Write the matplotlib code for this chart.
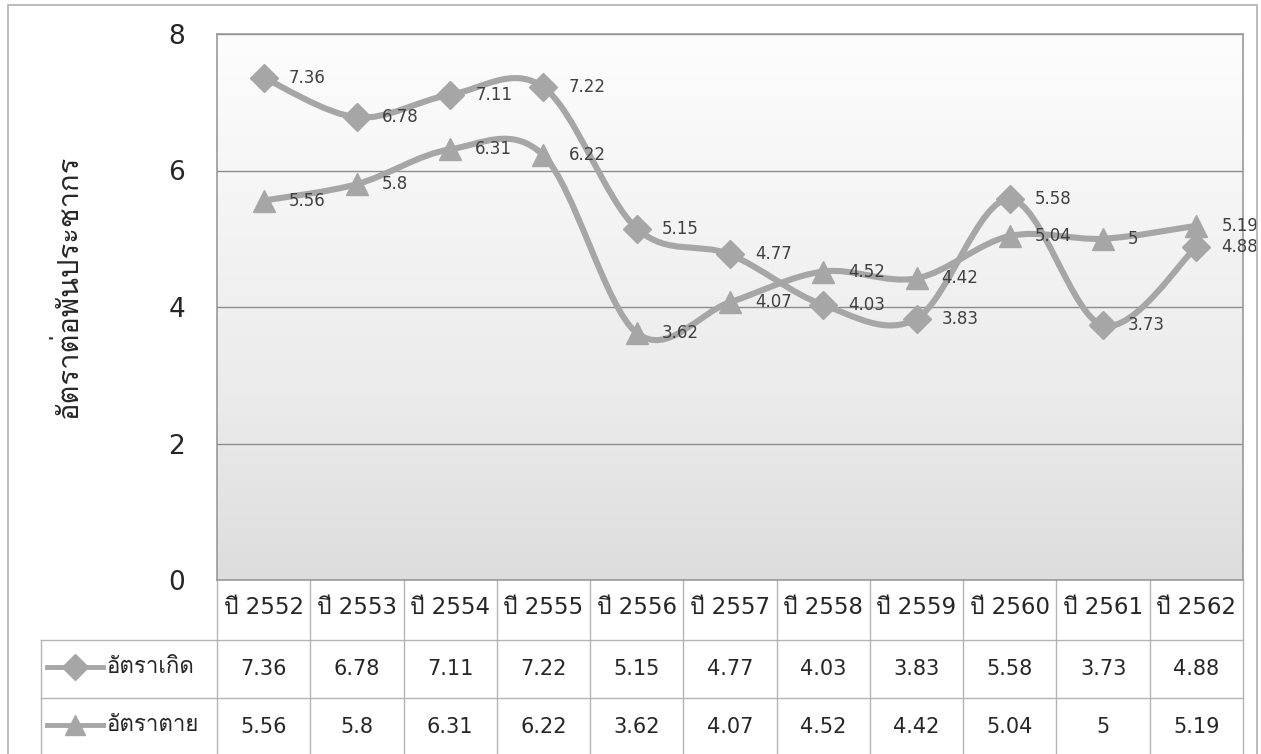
import numpy as np
import matplotlib
matplotlib.use("Agg")
import matplotlib.pyplot as plt
from matplotlib import font_manager
from matplotlib.ft2font import FT2Font
from matplotlib.path import Path
from matplotlib.patches import PathPatch, Rectangle
from matplotlib.lines import Line2D
import matplotlib.transforms as mtransforms

years = ['ปี 2552', 'ปี 2553', 'ปี 2554', 'ปี 2555', 'ปี 2556', 'ปี 2557',
         'ปี 2558', 'ปี 2559', 'ปี 2560', 'ปี 2561', 'ปี 2562']
birth_rate = [7.36, 6.78, 7.11, 7.22, 5.15, 4.77, 4.03, 3.83, 5.58, 3.73, 4.88]
death_rate = [5.56, 5.8, 6.31, 6.22, 3.62, 4.07, 4.52, 4.42, 5.04, 5, 5.19]
birth_labels = ['7.36', '6.78', '7.11', '7.22', '5.15', '4.77', '4.03', '3.83', '5.58', '3.73', '4.88']
death_labels = ['5.56', '5.8', '6.31', '6.22', '3.62', '4.07', '4.52', '4.42', '5.04', '5', '5.19']
series_names = ['อัตราเกิด', 'อัตราตาย']
y_label = 'อัตราต่อพันประชากร'

# look for any installed family that has thai glyphs
thai_fams = []
for f in font_manager.fontManager.ttflist:
    try:
        if FT2Font(f.fname).get_char_index(0x0E2D) and f.name not in thai_fams:
            thai_fams.append(f.name)
    except Exception:
        pass
plt.rcParams['font.family'] = ['DejaVu Sans'] + thai_fams[:3]

W, H = 1261, 754
LINE = '#a6a6a6'
GRID = '#8c8c8c'
TXT = '#262626'


def px(x, y):
    # pixel position (from top-left) -> figure fraction
    return x / W, 1 - y / H


def smooth_path(xs, ys):
    # excel style smoothed line: catmull-rom as cubic bezier
    pts = np.column_stack([xs, ys]).astype(float)
    n = len(pts)
    verts = [pts[0]]
    codes = [Path.MOVETO]
    for i in range(n - 1):
        p0 = pts[i - 1] if i > 0 else pts[i]
        p1 = pts[i]
        p2 = pts[i + 1]
        p3 = pts[i + 2] if i + 2 < n else pts[i + 1]
        c1 = p1 + (p2 - p0) / 6.0
        c2 = p2 - (p3 - p1) / 6.0
        verts += [c1, c2, p2]
        codes += [Path.CURVE4] * 3
    return Path(verts, codes)


fig = plt.figure(figsize=(W / 100, H / 100), dpi=100)

# outer chart frame
x0, y0 = px(8, 5)
x1, y1 = px(1257, 760)
fig.patches.append(Rectangle((x0, y1), x1 - x0, y0 - y1, transform=fig.transFigure,
                             fill=False, ec='#b0b0b0', lw=1.2, zorder=0))

left, top = px(217, 34)
right, bottom = px(1243, 580)
ax = fig.add_axes([left, bottom, right - left, top - bottom])

xs = np.arange(len(years))
ax.set_xlim(-0.5, len(years) - 0.5)
ax.set_ylim(0, 8)

# gradient background
grad = np.linspace(0, 1, 256).reshape(-1, 1)
cm = matplotlib.colors.LinearSegmentedColormap.from_list('g', ['#dddddd', '#ebebeb', '#f4f4f4', '#fdfdfd'])
ax.imshow(grad, extent=[-0.5, len(years) - 0.5, 0, 8], aspect='auto',
          cmap=cm, origin='lower', zorder=0)

ax.set_yticks([0, 2, 4, 6, 8])
ax.yaxis.grid(True, color=GRID, lw=1.0, zorder=1)
ax.set_xticks([])
ax.tick_params(axis='y', length=0, pad=23, labelsize=19, colors=TXT)
for sp in ax.spines.values():
    sp.set_color('#9a9a9a')
    sp.set_linewidth(1.2)

for vals, labs, mk, ms in [(birth_rate, birth_labels, 'D', 14), (death_rate, death_labels, '^', 16)]:
    ax.add_patch(PathPatch(smooth_path(xs, vals), fill=False, ec=LINE, lw=4.4,
                           zorder=3, capstyle='round', joinstyle='round'))
    ax.plot(xs, vals, ls='none', marker=mk, ms=ms, color=LINE, zorder=4)
    for x, v, t in zip(xs, vals, labs):
        ax.annotate(t, (x, v), xytext=(18, 0), textcoords='offset points',
                    ha='left', va='center', fontsize=12, color='#404040', zorder=5)

fig.text(*px(68, 286), y_label, rotation=90, ha='center', va='center',
         fontsize=21, color=TXT)

# data table below the chart
tr = mtransforms.blended_transform_factory(ax.transData, fig.transFigure)
row_lines = [580, 640, 698, 760]
for i in range(len(years) + 1):
    ax.add_line(Line2D([i - 0.5, i - 0.5], [px(0, 580)[1], px(0, 760)[1]], transform=tr,
                       color='#b4b4b4', lw=1.0, clip_on=False))
for yy in row_lines[1:3]:
    fig.add_artist(Line2D([px(41, 0)[0], right], [px(0, yy)[1]] * 2,
                          color='#b4b4b4', lw=1.0))
fig.add_artist(Line2D([px(41, 0)[0]] * 2, [px(0, 640)[1], px(0, 760)[1]],
                      color='#b4b4b4', lw=1.0))

for i, yr in enumerate(years):
    ax.text(i, px(0, 608)[1], yr, transform=tr, ha='center', va='center',
            fontsize=16.5, color=TXT)
    ax.text(i, px(0, 669)[1], birth_labels[i], transform=tr, ha='center', va='center',
            fontsize=15, color=TXT)
    ax.text(i, px(0, 727)[1], death_labels[i], transform=tr, ha='center', va='center',
            fontsize=15, color=TXT)

for name, mk, ms, yy in [(series_names[0], 'D', 13, 667), (series_names[1], '^', 14, 725)]:
    lx0, ly = px(47, yy)
    lx1, _ = px(103, yy)
    fig.add_artist(Line2D([lx0, lx1], [ly, ly], color=LINE, lw=3.5))
    fig.add_artist(Line2D([(lx0 + lx1) / 2], [ly], marker=mk, ms=ms, color=LINE, ls='none'))
    fig.text(*px(106, yy), name, ha='left', va='center', fontsize=16, color=TXT)

fig.savefig('out.png', dpi=100)
